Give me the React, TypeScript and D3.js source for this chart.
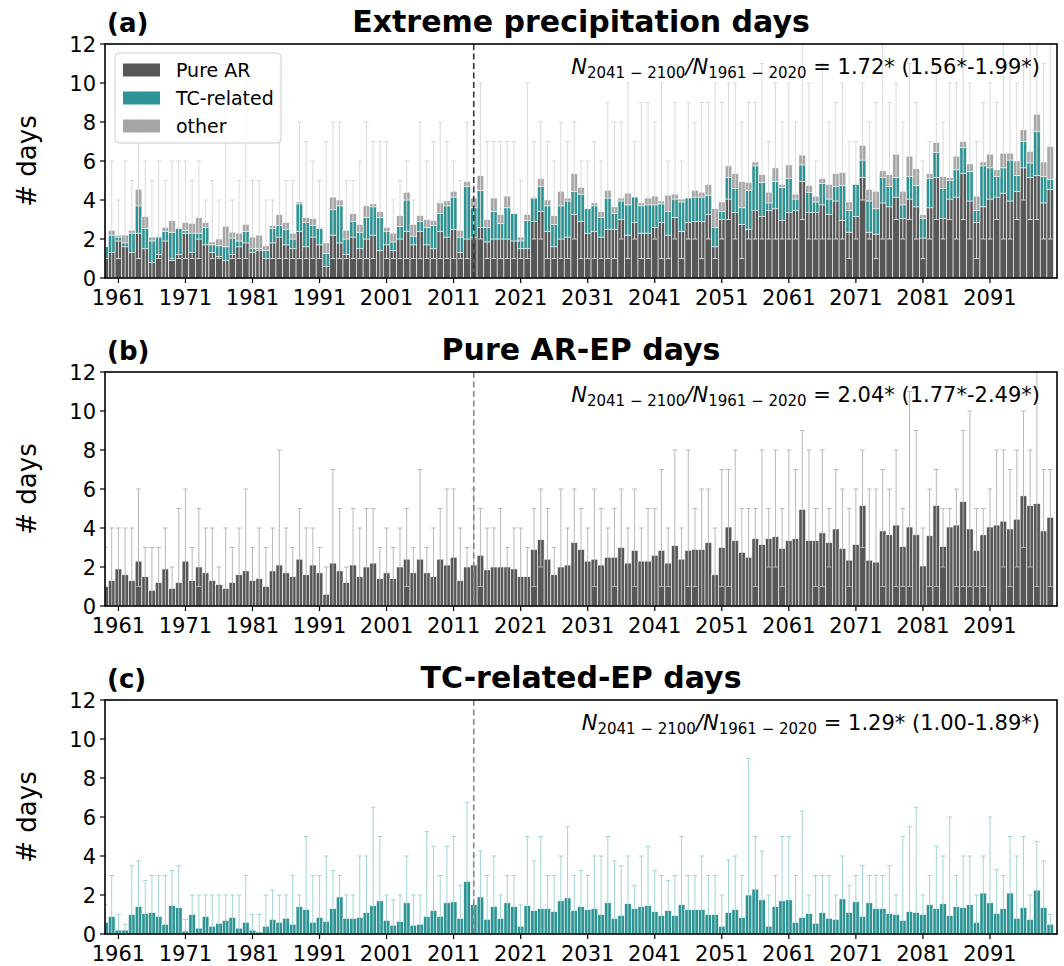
import React from 'react';
import * as d3 from 'd3';

// one bar per year, 1959..2100
const years = d3.range(1959, 2101);
const xTickYears = [1961, 1971, 1981, 1991, 2001, 2011, 2021, 2031, 2041, 2051, 2061, 2071, 2081, 2091];
const yTickValues = [0, 2, 4, 6, 8, 10, 12];
const splitYear = 2014;

// ensemble-mean days per year (first value = 1959, then rows of ten years)
const pureAR = [
  1.0,
  1.3, 1.9, 1.6, 1.3, 2.3, 1.5, 0.8, 1.2, 1.9, 0.9,
  1.2, 2.3, 1.3, 2.0, 1.7, 1.3, 1.1, 0.9, 1.2, 1.6,
  1.8, 1.3, 1.4, 1.0, 1.8, 2.1, 1.7, 1.5, 2.4, 1.6,
  2.1, 1.7, 0.6, 2.2, 1.8, 1.2, 2.1, 1.5, 2.0, 2.2,
  1.4, 1.7, 1.4, 2.0, 2.4, 1.7, 2.4, 1.7, 1.5, 2.4,
  2.1, 2.5, 1.3, 2.0, 2.1, 2.6, 1.85, 2.0, 2.0, 2.0,
  1.9, 1.5, 1.5, 2.9, 3.4, 2.4, 1.6, 2.0, 2.1, 3.25,
  2.9, 2.3, 2.4, 2.1, 2.5, 2.5, 3.0, 2.2, 2.85, 2.3,
  2.3, 2.6, 2.85, 2.2, 3.1, 2.4, 2.85, 2.9, 2.9, 3.25,
  1.6, 3.0, 4.05, 3.35, 2.75, 2.5, 3.45, 3.15, 3.45, 3.55,
  2.95, 3.35, 3.45, 4.95, 3.35, 3.35, 3.75, 3.25, 3.95, 2.95,
  2.35, 3.15, 5.15, 2.35, 2.25, 3.85, 3.65, 4.15, 3.05, 4.05,
  3.65, 2.05, 3.6, 5.15, 3.05, 4.05, 4.15, 5.35, 3.95, 2.85,
  3.65, 4.05, 4.15, 4.35, 3.95, 4.45, 5.65, 5.15, 5.25, 3.85,
  4.55,
];

const tcRelated = [
  0.6,
  0.9, 0.2, 0.2, 1.0, 1.4, 1.05, 1.1, 0.9, 0.5, 1.45,
  1.35, 0.15, 1.0, 0.3, 0.9, 0.4, 0.55, 0.7, 0.85, 0.3,
  0.6, 0.2, 0.1, 0.4, 0.75, 0.6, 0.8, 0.5, 1.4, 1.25,
  0.6, 0.85, 0.65, 1.3, 1.9, 0.8, 0.8, 0.85, 1.1, 1.45,
  1.7, 0.7, 0.45, 0.65, 1.6, 0.45, 0.5, 0.9, 1.2, 0.9,
  1.6, 1.65, 0.8, 2.7, 1.5, 1.9, 0.75, 1.4, 0.8, 1.6,
  1.4, 0.4, 1.45, 1.2, 1.3, 1.3, 1.15, 1.7, 1.85, 1.2,
  1.4, 1.25, 1.3, 1.0, 1.6, 0.8, 0.95, 1.55, 1.3, 1.4,
  1.45, 1.15, 0.95, 1.2, 0.95, 1.5, 1.25, 1.25, 1.25, 1.0,
  1.0, 0.4, 1.1, 1.25, 0.85, 2.0, 2.3, 1.75, 0.4, 1.4,
  1.7, 1.75, 0.6, 0.85, 1.05, 0.55, 1.1, 0.8, 0.75, 1.8,
  1.1, 1.65, 0.9, 1.6, 1.3, 1.3, 1.05, 1.0, 0.7, 1.15,
  1.1, 1.0, 1.5, 1.3, 1.55, 0.95, 1.4, 1.35, 1.5, 0.6,
  2.1, 1.6, 1.05, 1.3, 2.1, 0.8, 1.35, 0.75, 2.25, 1.35,
  0.5,
];

const otherEP = [
  0.0,
  0.25, 0.1, 0.4, 0.15, 0.85, 0.6, 0.2, 0.05, 0.2, 0.6,
  0.05, 0.4, 0.5, 0.8, 0.25, 0.15, 0.35, 1.05, 0.3, 0.4,
  0.35, 0.6, 0.7, 0.25, 0.15, 0.55, 0.35, 0.3, 0.1, 0.25,
  0.35, 0.05, 0.55, 0.65, 0.3, 0.45, 0.4, 0.4, 0.6, 0.15,
  0.3, 0.2, 0.45, 0.55, 0.4, 0.6, 0.3, 0.4, 0.25, 0.55,
  0.25, 0.3, 0.35, 0.25, 0.5, 0.75, 0.4, 0.7, 0.45, 0.6,
  0.0, 0.2, 0.3, 0.05, 0.4, 0.3, 0.45, 0.75, 0.15, 0.9,
  0.35, 0.0, 0.15, 0.3, 0.4, 0.35, 0.15, 0.6, 0.0, 0.15,
  0.35, 0.45, 0.15, 0.85, 0.25, 0.15, 0.0, 0.35, 0.25, 0.55,
  0.95, 0.5, 0.6, 0.75, 1.35, 0.4, 0.2, 0.4, 0.55, 0.7,
  0.15, 0.7, 0.25, 0.5, 0.35, 0.3, 0.25, 0.75, 0.65, 0.65,
  0.45, 0.0, 0.75, 0.6, 0.9, 0.35, 0.6, 1.2, 0.7, 1.05,
  0.85, 0.2, 0.25, 0.5, 0.6, 0.15, 0.7, 0.3, 0.4, 0.75,
  0.2, 0.7, 0.35, 0.75, 0.35, 0.75, 0.6, 0.6, 0.9, 0.75,
  1.7,
];

// member spread (min / max) for each panel
const allEpMin = [
  0,
  0, 1, 0, 0, 1, 0, 0, 1, 0, 1,
  1, 1, 1, 1, 0, 1, 1, 0, 1, 1,
  1, 0, 0, 0, 1, 1, 1, 1, 1, 1,
  1, 1, 0, 1, 1, 1, 1, 1, 1, 1,
  0, 1, 1, 1, 1, 1, 1, 1, 1, 1,
  1, 1, 1, 1, 2, 2, 1, 1, 1, 1,
  1, 1, 1, 2, 2, 1, 1, 1, 1, 2,
  1, 1, 1, 1, 1, 1, 2, 1, 2, 1,
  1, 2, 1, 1, 2, 1, 2, 2, 1, 2,
  1, 2, 3, 2, 1, 2, 2, 2, 2, 2,
  2, 2, 2, 3, 2, 2, 2, 2, 2, 2,
  1, 2, 4, 2, 1, 2, 2, 3, 2, 3,
  2, 1, 2, 3, 2, 3, 2, 3, 2, 1,
  2, 2, 3, 2, 2, 3, 4, 3, 3, 2,
  2,
];

const allEpMax = [
  5,
  6, 4, 6, 5, 10, 6, 5, 6, 5, 6,
  6, 6, 5, 6, 4, 5, 4, 11, 4, 5,
  11, 5, 5, 4, 4, 11, 5, 5, 8, 7,
  6, 5, 7, 8, 8, 5, 5, 6, 8, 7,
  7, 7, 4, 5, 6, 4, 8, 6, 7, 8,
  7, 6, 5, 8, 7, 10, 7, 7, 7, 7,
  7, 5, 10, 7, 8, 7, 6, 8, 7, 8,
  6, 6, 7, 6, 9, 8, 8, 10, 7, 9,
  9, 8, 10, 6, 9, 6, 9, 8, 9, 9,
  10, 9, 10, 10, 8, 9, 9, 11, 7, 10,
  8, 10, 8, 12, 10, 6, 11, 8, 9, 10,
  7, 7, 10, 8, 9, 12, 9, 10, 8, 11,
  9, 6, 7, 11, 8, 10, 10, 12, 10, 7,
  9, 10, 9, 12, 11, 10, 11, 12, 12, 11,
  12,
];

const arEpMin = [
  0,
  0, 0, 0, 0, 1, 0, 0, 0, 0, 0,
  0, 0, 0, 1, 0, 0, 0, 0, 0, 0,
  0, 0, 0, 0, 0, 0, 0, 0, 0, 0,
  0, 0, 0, 0, 0, 0, 0, 0, 0, 0,
  0, 0, 0, 0, 1, 0, 0, 0, 0, 0,
  0, 0, 0, 0, 0, 1, 0, 0, 0, 0,
  0, 0, 0, 1, 2, 0, 0, 0, 0, 0,
  0, 0, 1, 0, 0, 1, 0, 0, 1, 0,
  0, 0, 1, 1, 0, 0, 1, 1, 0, 0,
  0, 1, 1, 0, 0, 0, 1, 0, 2, 2,
  1, 0, 0, 0, 0, 1, 1, 2, 0, 0,
  1, 0, 3, 0, 0, 1, 0, 1, 1, 1,
  0, 0, 1, 1, 2, 0, 1, 1, 1, 1,
  1, 0, 0, 2, 1, 2, 3, 2, 1, 0,
  1,
];

const arEpMax = [
  3,
  4, 4, 4, 4, 6, 3, 3, 3, 4, 2,
  5, 6, 3, 5, 4, 4, 2, 4, 3, 4,
  6, 3, 4, 3, 4, 8, 4, 3, 5, 4,
  4, 3, 2, 7, 5, 2, 5, 4, 5, 5,
  3, 4, 3, 4, 5, 3, 7, 3, 4, 5,
  6, 6, 4, 3, 6, 5, 4, 4, 5, 3,
  4, 4, 3, 5, 6, 5, 3, 6, 4, 6,
  5, 4, 6, 5, 4, 5, 6, 4, 6, 4,
  5, 5, 7, 4, 8, 4, 8, 5, 6, 6,
  4, 7, 7, 8, 5, 5, 5, 8, 5, 8,
  5, 8, 7, 9, 8, 5, 8, 5, 7, 6,
  5, 6, 8, 6, 6, 7, 6, 8, 5, 11,
  9, 4, 6, 7, 5, 5, 6, 9, 10, 5,
  5, 6, 8, 8, 7, 8, 10, 8, 12, 7,
  7,
];

// TC-related spread: lower bound is 0 in every year
const tcEpMax = [
  1.5,
  3, 1, 0.5, 3.5, 3.75, 2.75, 3, 3, 3, 3.25,
  3.5, 0.75, 2, 2, 2, 2, 2, 2, 2, 2,
  3, 1, 1, 2, 2.25, 2, 2, 3, 2, 5,
  3, 3, 4, 3.25, 3, 2, 2, 4, 4, 6.5,
  5, 2, 1.75, 2, 4, 2, 2, 5.25, 4.5, 3,
  4.5, 5, 2.5, 6.75, 4, 4.25, 3, 4, 2, 3,
  3, 1.5, 5, 3.75, 5, 3, 3, 4, 5.5, 3,
  3.25, 3, 4, 4, 5, 3.75, 3.5, 4, 2.5, 4,
  4.5, 3.25, 3, 2.75, 3, 5, 3, 3, 4, 3,
  3, 2, 3.8, 4, 3, 9, 5, 4.25, 2, 3,
  5, 5, 3, 6.3, 2, 3, 3, 3, 2, 4,
  2.5, 3, 3.5, 3, 3, 3, 3.5, 2, 5, 5.5,
  6.5, 2, 3, 4.5, 4, 6, 3, 4, 4, 2,
  4, 6, 3.3, 3, 5, 4, 5, 2, 4.75, 3.75,
  1,
];

const panelLetters = ['(a)', '(b)', '(c)'];
const panelTitles = ['Extreme precipitation days', 'Pure AR-EP days', 'TC-related-EP days'];
const ratioTexts = ['1.72* (1.56*-1.99*)', '2.04* (1.77*-2.49*)', '1.29* (1.00-1.89*)'];
const legendLabels = ['Pure AR', 'TC-related', 'other'];

const AR_COLOR = '#575757';
const TC_COLOR = '#2e9393';
const OTHER_COLOR = '#a6a6a6';
const FONT = 'DejaVu Sans';

const LEFT = 105;
const RIGHT = 1057;
const PANEL_H = 234;
const panelTops = [44, 372, 700];

const table = years.map((year, i) => ({
  year,
  ar: pureAR[i],
  tc: tcRelated[i],
  other: otherEP[i],
}));

const x = d3.scaleLinear().domain([1959, 2101]).range([LEFT, RIGHT]);
const bw = x(1960) - x(1959);

const Panel = ({ idx, keys, colors, low, high, errColor, dashColor, legend }) => {
  const top = panelTops[idx];
  const bottom = top + PANEL_H;
  const y = d3.scaleLinear().domain([0, 12]).range([bottom, top]);
  const series = d3.stack().keys(keys)(table);
  const clipId = 'clip' + idx;
  const midY = (top + bottom) / 2;

  return (
    <g>
      <clipPath id={clipId}>
        <rect x={LEFT} y={top} width={RIGHT - LEFT} height={PANEL_H} />
      </clipPath>
      <g clipPath={`url(#${clipId})`}>
        {series.map((s, k) =>
          s.map((d, i) => (
            <rect
              key={k + '-' + i}
              x={x(d.data.year - 0.5)}
              y={y(d[1])}
              width={bw}
              height={Math.max(0, y(d[0]) - y(d[1]))}
              fill={colors[k]}
              stroke="#ffffff"
              strokeWidth={0.6}
            />
          ))
        )}
        {years.map((yr, i) => {
          const lo = low ? low[i] : 0;
          const cx = x(yr);
          return (
            <g key={'e' + i} stroke={errColor} strokeWidth={1}>
              <line x1={cx} x2={cx} y1={y(lo)} y2={y(high[i])} />
              <line x1={cx - 2.3} x2={cx + 2.3} y1={y(high[i])} y2={y(high[i])} />
              <line x1={cx - 2.3} x2={cx + 2.3} y1={y(lo)} y2={y(lo)} />
            </g>
          );
        })}
        <line
          x1={x(splitYear)}
          x2={x(splitYear)}
          y1={top}
          y2={bottom}
          stroke={dashColor}
          strokeWidth={1.6}
          strokeDasharray="6,3.5"
        />
      </g>

      {legend && (
        <g fontFamily={FONT} fontSize={19}>
          <rect x={115} y={top + 9} width={166} height={90} rx={4} fill="#ffffff" fillOpacity={0.8} stroke="#cccccc" />
          {legendLabels.map((lab, k) => (
            <g key={lab}>
              <rect x={123} y={top + 19.5 + k * 28} width={37} height={13} fill={colors[k]} />
              <text x={176} y={top + 32.5 + k * 28}>{lab}</text>
            </g>
          ))}
        </g>
      )}

      {/* axes */}
      <rect x={LEFT} y={top} width={RIGHT - LEFT} height={PANEL_H} fill="none" stroke="#000" strokeWidth={1.6} />
      {xTickYears.map((t) => (
        <g key={t}>
          <line x1={x(t)} x2={x(t)} y1={bottom} y2={bottom + 5} stroke="#000" strokeWidth={1.2} />
          <text x={x(t)} y={bottom + 27} textAnchor="middle" fontFamily={FONT} fontSize={21}>{t}</text>
        </g>
      ))}
      {yTickValues.map((t) => (
        <g key={t}>
          <line x1={LEFT - 5} x2={LEFT} y1={y(t)} y2={y(t)} stroke="#000" strokeWidth={1.2} />
          <text x={LEFT - 9} y={y(t)} dy="0.36em" textAnchor="end" fontFamily={FONT} fontSize={21}>{t}</text>
        </g>
      ))}
      <text
        transform={`translate(27,${midY}) rotate(-90)`}
        textAnchor="middle"
        dy="0.36em"
        fontFamily={FONT}
        fontSize={26}
      >
        # days
      </text>

      <text x={LEFT + 2} y={top - 12} fontFamily={FONT} fontWeight="bold" fontSize={26}>{panelLetters[idx]}</text>
      <text x={(LEFT + RIGHT) / 2} y={top - 12} textAnchor="middle" fontFamily={FONT} fontWeight="bold" fontSize={30}>
        {panelTitles[idx]}
      </text>

      <text x={1040} y={top + 30} textAnchor="end" fontFamily={FONT} fontSize={21}>
        <tspan fontStyle="italic">N</tspan>
        <tspan fontSize={15} dy={4}>2041 − 2100</tspan>
        <tspan dy={-4} fontStyle="italic">/N</tspan>
        <tspan fontSize={15} dy={4}>1961 − 2020</tspan>
        <tspan dy={-4}>{' = ' + ratioTexts[idx]}</tspan>
      </text>
    </g>
  );
};

export default function App() {
  return (
    <svg
      width={1064}
      height={966}
      style={{ position: 'absolute', left: 0, top: 0, background: '#fff' }}
    >
      <rect width={1064} height={966} fill="#fff" />
      <Panel
        idx={0}
        keys={['ar', 'tc', 'other']}
        colors={[AR_COLOR, TC_COLOR, OTHER_COLOR]}
        low={allEpMin}
        high={allEpMax}
        errColor="#d9d9d9"
        dashColor="#333333"
        legend
      />
      <Panel
        idx={1}
        keys={['ar']}
        colors={[AR_COLOR]}
        low={arEpMin}
        high={arEpMax}
        errColor="#b8b8b8"
        dashColor="#888888"
      />
      <Panel
        idx={2}
        keys={['tc']}
        colors={[TC_COLOR]}
        low={null}
        high={tcEpMax}
        errColor="#a3d4d4"
        dashColor="#888888"
      />
    </svg>
  );
}
